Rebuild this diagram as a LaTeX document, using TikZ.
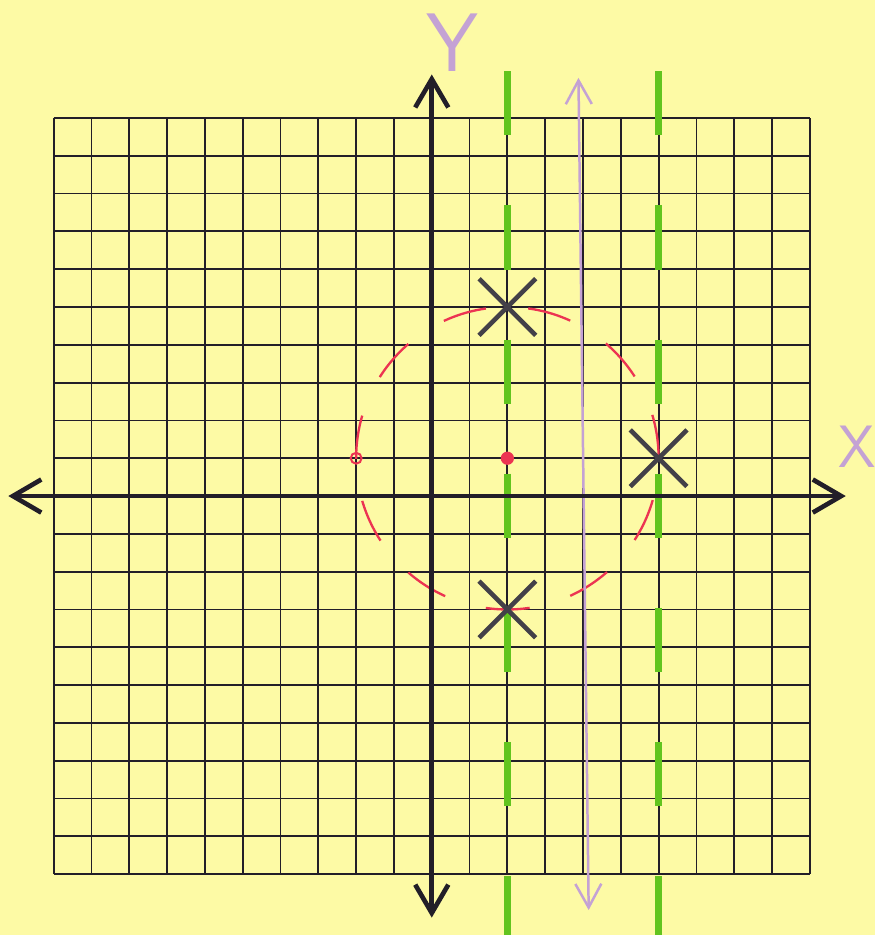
\documentclass[tikz,border=0pt]{standalone}
\usepackage{tikz}
\usetikzlibrary{arrows.meta,shapes.misc}

\definecolor{papel}{RGB}{253,250,165}
\definecolor{tinta}{RGB}{34,30,40}
\definecolor{verde}{RGB}{98,196,30}
\definecolor{vermelho}{RGB}{236,52,82}
\definecolor{lilas}{RGB}{196,162,212}

\begin{document}
\begin{tikzpicture}[
  x=0.8cm, y=0.8cm,
  grade/.style={draw=tinta, line width=1.1pt, step=0.8cm},
  eixo/.style={{Straight Barb[length=6mm,width=7mm]}-{Straight Barb[length=6mm,width=7mm]},
    draw=tinta, line width=2.8pt},
  guia/.style={draw=verde, line width=4.2pt, dash pattern=on 1.36cm off 1.48cm},
  circulo/.style={draw=vermelho, line width=1.4pt, dash pattern=on 0.93cm off 0.898cm},
  seta/.style={{Straight Barb[length=5mm,width=5.5mm]}-{Straight Barb[length=5mm,width=5.5mm]},
    draw=lilas, line width=1.5pt},
  cruz/.style={cross out, draw=tinta!85, line width=2.8pt, minimum size=1.1cm, inner sep=0pt},
  ponto/.style={circle, fill=vermelho, minimum size=2.8mm, inner sep=0pt},
  vazio/.style={circle, draw=vermelho, line width=1.2pt, minimum size=2.3mm, inner sep=0pt},
  rotulo/.style={text=lilas, font=\sffamily}
]

% Parâmetros gerais
\def\lado{10}      % meia largura da grade
\def\raio{4}       % raio do círculo tracejado

% fundo (papel amarelo)
\useasboundingbox[fill=papel] (-11.42,-11.61) rectangle (11.73,13.12);

% ==========================================================
% Grade 20x20
% ==========================================================
\draw[grade] (-\lado,-\lado) grid (\lado,\lado);

% ==========================================================
% Retas verdes tracejadas x=2 e x=6
% ==========================================================
\foreach \gx in {2,6}{
  \draw[guia] (\gx,11.24) -- (\gx,-11.6);
}

% ==========================================================
% Círculo vermelho tracejado
% ==========================================================
\draw[circulo] (2,1) circle (\raio);

% ==========================================================
% Seta lilás
% ==========================================================
\coordinate (lilastopo) at (3.88,11.06);
\coordinate (lilasbase) at (4.15,-10.95);
\draw[seta] (lilastopo) -- (lilasbase);

% ==========================================================
% Eixos
% ==========================================================
\coordinate (xesq) at (-11.2,0);
\coordinate (xdir) at (10.95,0);
\coordinate (ytopo) at (0,11.15);
\coordinate (ybase) at (0,-11.15);
\draw[eixo] (xesq) -- (xdir);
\draw[eixo] (ytopo) -- (ybase);

\node[rotulo, font=\sffamily\fontsize{50}{50}\selectfont] (rotY) at (0.54,12.0) {Y};
\node[rotulo, font=\sffamily\fontsize{36}{36}\selectfont] (rotX) at (11.26,1.3) {X};

% ==========================================================
% Pontos marcados
% ==========================================================
\foreach \px/\py/\nome in {2/5/a, 6/1/b, 2/-3/c}{
  \node[cruz] (raiz\nome) at (\px,\py) {};
}

\node[ponto] (centro) at (2,1) {};
\node[vazio] (extremo) at (-2,1) {};

\end{tikzpicture}
\end{document}
